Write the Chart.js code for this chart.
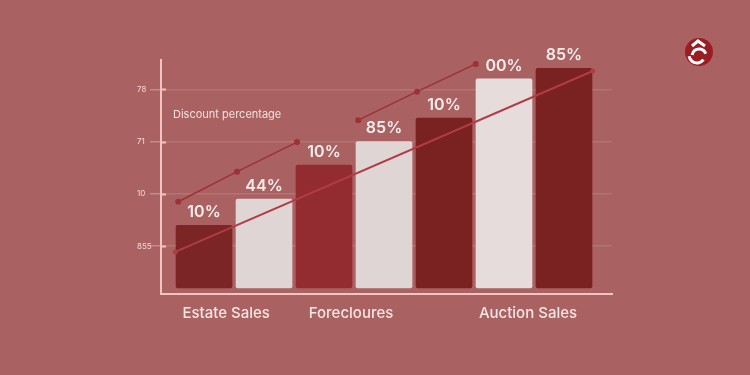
<!DOCTYPE html>
<html lang="en">
<head>
  <meta charset="UTF-8" />
  <title>Discount percentage</title>
  <script src="https://cdn.jsdelivr.net/npm/chart.js"></script>
  <style>
    html, body {
      margin: 0;
      width: 750px;
      height: 375px;
      background-color: #a96261;
      overflow: hidden;
    }
    #wrap {
      position: relative;
      width: 750px;
      height: 375px;
    }
  </style>
</head>
<body>
  <div id="wrap"><canvas id="myChart"></canvas></div>

  <script>
    // datos del grafico
    const barValues = [24, 34, 47, 56, 65, 80, 84];
    const barLabels = ["10%", "44%", "10%", "85%", "10%", "00%", "85%"];
    const xLabels = ["Estate Sales", "Forecloures", "Auction Sales"];
    const yTickValues = [16, 36, 56, 76];
    const yTickLabels = ["855", "10", "71", "78"];
    const trendX = [-0.48, 6.48];
    const trendY = [13.8, 83.0];
    const seg1X = [-0.43, 0.55, 1.55];
    const seg1Y = [33.0, 44.5, 55.8];
    const seg2X = [2.57, 3.55, 4.53];
    const seg2Y = [64.2, 75.1, 85.7];
    const noteText = "Discount percentage";

    const barColors = ["#7b2526", "#e0d5d5", "#932c31", "#e0d5d5", "#7a2122", "#e6dcdc", "#7a2122"];
    const xLabelPos = [0.37, 2.45, 5.4];

    const toPoints = (xs, ys) => xs.map((x, i) => ({ x: x, y: ys[i] }));

    // etiquetas encima de las barras, texto y logo
    const overlayPlugin = {
      id: 'overlay',
      afterDatasetsDraw: (chart) => {
        const ctx = chart.ctx;
        const meta = chart.getDatasetMeta(3);
        ctx.save();
        ctx.fillStyle = "#f7ecec";
        ctx.font = "600 16px Inter";
        ctx.textAlign = "center";
        ctx.textBaseline = "bottom";
        meta.data.forEach((bar, i) => {
          ctx.fillText(barLabels[i], bar.x, bar.y - 5);
        });

        ctx.font = "400 11px Inter";
        ctx.fillStyle = "#f5e0de";
        ctx.textAlign = "left";
        ctx.textBaseline = "middle";
        ctx.fillText(noteText, 173, 115);

        // marcas cortas del eje y
        const ys = chart.scales.y;
        ctx.strokeStyle = "#f2c4c0";
        ctx.lineWidth = 2;
        yTickValues.forEach(v => {
          const py = Math.round(ys.getPixelForValue(v)) + 0.5;
          ctx.beginPath();
          ctx.moveTo(161, py);
          ctx.lineTo(166, py);
          ctx.stroke();
        });

        // logo
        ctx.fillStyle = "#9a1d22";
        ctx.beginPath();
        ctx.arc(699, 52, 14, 0, Math.PI * 2);
        ctx.fill();
        ctx.strokeStyle = "#ffffff";
        ctx.lineWidth = 3;
        ctx.beginPath();
        ctx.moveTo(692, 46);
        ctx.lineTo(698, 41);
        ctx.lineTo(705, 46);
        ctx.stroke();
        ctx.beginPath();
        ctx.arc(699, 56, 7, Math.PI * 1.05, Math.PI * 1.9);
        ctx.stroke();
        ctx.beginPath();
        ctx.arc(697, 55, 8, Math.PI * 0.2, Math.PI * 0.95);
        ctx.stroke();
        ctx.restore();
      }
    };

    const ctx = document.getElementById("myChart").getContext("2d");

    new Chart(ctx, {
      data: {
        datasets: [
          {
            type: "line",
            data: toPoints(trendX, trendY),
            borderColor: "#b13c45",
            borderWidth: 2,
            pointRadius: 2.5,
            pointBackgroundColor: "#b13c45",
            pointBorderWidth: 0,
            order: 1
          },
          {
            type: "line",
            data: toPoints(seg1X, seg1Y),
            borderColor: "#9e3038",
            borderWidth: 1.5,
            pointRadius: 3,
            pointBackgroundColor: "#9e3038",
            pointBorderWidth: 0,
            order: 1
          },
          {
            type: "line",
            data: toPoints(seg2X, seg2Y),
            borderColor: "#9e3038",
            borderWidth: 1.5,
            pointRadius: 3,
            pointBackgroundColor: "#9e3038",
            pointBorderWidth: 0,
            order: 1
          },
          {
            type: "bar",
            data: barValues.map((v, i) => ({ x: i, y: v })),
            backgroundColor: barColors,
            borderRadius: 2,
            borderSkipped: false,
            barThickness: 56,
            order: 2
          }
        ]
      },
      options: {
        responsive: true,
        maintainAspectRatio: false,
        animation: false,
        layout: {
          padding: { left: 137, right: 138, top: 60, bottom: 0 }
        },
        plugins: {
          legend: { display: false },
          tooltip: { enabled: false }
        },
        scales: {
          x: {
            type: "linear",
            min: -0.717,
            max: 6.8,
            offset: false,
            grid: { display: false, drawTicks: false },
            border: { display: true, color: "#f2c4c0", width: 2 },
            afterBuildTicks: (scale) => {
              scale.ticks = xLabelPos.map(v => ({ value: v }));
            },
            afterFit: (scale) => { scale.height = 81; },
            ticks: {
              autoSkip: false,
              maxRotation: 0,
              padding: 10,
              color: "#f6e6e4",
              font: { family: "Inter", size: 15, weight: "500" },
              callback: (v, i) => xLabels[i]
            }
          },
          y: {
            min: -2.3,
            max: 87.2,
            afterBuildTicks: (scale) => {
              scale.ticks = yTickValues.map(v => ({ value: v }));
            },
            afterFit: (scale) => { scale.width = 24; },
            grid: {
              color: "rgba(255, 225, 225, 0.14)",
              lineWidth: 1.5,
              drawTicks: true,
              tickLength: 11,
              tickColor: "rgba(255, 215, 215, 0.35)"
            },
            border: { display: true, color: "#f2c4c0", width: 2 },
            ticks: {
              crossAlign: "far",
              color: "#f3dad8",
              font: { family: "Inter", size: 8 },
              callback: (v, i) => yTickLabels[i]
            }
          }
        }
      },
      plugins: [overlayPlugin]
    });
  </script>
</body>
</html>
